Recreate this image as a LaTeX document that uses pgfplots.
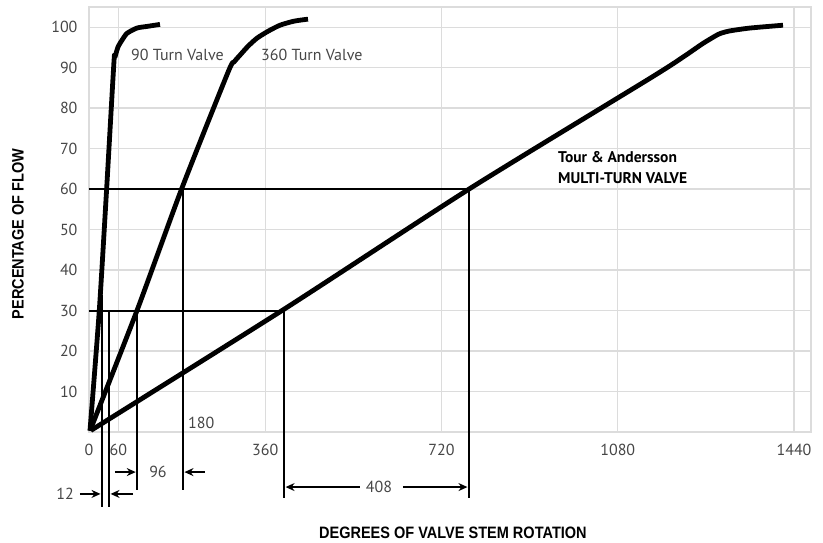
\documentclass[border=0pt]{standalone}
\usepackage{fontspec}
\setmainfont{PT Sans}
\newfontfamily\labelfont{Liberation Sans}
\usepackage{pgfplots}
\pgfplotsset{compat=1.18}
\usetikzlibrary{arrows.meta}
\definecolor{gridgray}{RGB}{220,220,220}
\definecolor{ticktext}{RGB}{70,70,70}

\begin{document}
\begin{tikzpicture}
\begin{axis}[
  scale only axis, width=722pt, height=425pt,
  xmin=0, xmax=1474.7, ymin=0, ymax=105,
  xtick={0,60,360,720,1080,1440}, xticklabels={0,60,360,720,1080,1440},
  ytick={10,20,...,100}, yticklabels={10,20,30,40,50,60,70,80,90,100},
  grid=major, major grid style={draw=gridgray, line width=1.4pt},
  axis line style={draw=gridgray, line width=1.4pt},
  tick style={draw=none},
  tick label style={font=\fontsize{16}{19}\selectfont, text=ticktext},
  xticklabel style={yshift=-9pt},
  yticklabel style={xshift=-8pt},
  clip=false,
  every axis y label/.style={at={(axis description cs:-0.0983,0.466)}, rotate=90, anchor=center},
  every axis x label/.style={at={(axis description cs:0.504,-0.2376)}, anchor=center},
  ylabel={\scalebox{0.88}[1]{\labelfont\bfseries\fontsize{16.5}{19}\selectfont PERCENTAGE OF FLOW}},
  xlabel={\scalebox{0.88}[1]{\labelfont\bfseries\fontsize{16.5}{19}\selectfont DEGREES OF VALVE STEM ROTATION}},
]
% reference lines at 30 % and 60 %
\addplot[black, line width=1.9pt] coordinates {(0,60) (776,60)};
\addplot[black, line width=1.9pt] coordinates {(0,30) (398,30)};
% drop lines
\addplot[black, line width=1.9pt] coordinates {(26.6,33.8) (26.6,-18.5)};
\addplot[black, line width=1.9pt] coordinates {(40.8,30) (40.8,-18.5)};
\addplot[black, line width=1.9pt] coordinates {(98,30) (98,-14.3)};
\addplot[black, line width=1.9pt] coordinates {(192,60) (192,-14.3)};
\addplot[black, line width=1.9pt] coordinates {(398,30) (398,-16.3)};
\addplot[black, line width=1.9pt] coordinates {(776,60) (776,-16.3)};
% dimension arrows
\addplot[black, line width=1.3pt, -{Stealth[length=9pt,width=8pt]}] coordinates {(-18.4,-15.3) (23.5,-15.3)};
\addplot[black, line width=1.3pt, -{Stealth[length=9pt,width=8pt]}] coordinates {(89.9,-15.3) (44,-15.3)};
\addplot[black, line width=1.3pt, -{Stealth[length=9pt,width=8pt]}] coordinates {(53.1,-9.9) (95.5,-9.9)};
\addplot[black, line width=1.3pt, -{Stealth[length=9pt,width=8pt]}] coordinates {(236.9,-9.9) (195,-9.9)};
\addplot[black, line width=1.3pt, -{Stealth[length=9pt,width=8pt]}] coordinates {(553.5,-13.6) (401.5,-13.6)};
\addplot[black, line width=1.3pt, -{Stealth[length=9pt,width=8pt]}] coordinates {(641.3,-13.6) (773,-13.6)};
% 90 turn valve
\addplot[black, line width=4.8pt, line join=round, smooth, tension=0.4] coordinates {
 (2,0.3) (21,30) (36,60) (51,91.5) (53,92.6) (59.2,95.1) (67.4,96.8)
 (77.6,98.5) (98,99.8) (118.5,100.2) (145,100.7)};
% 360 turn valve
\addplot[black, line width=4.8pt, line join=round, smooth, tension=0.4] coordinates {
 (2,0.3) (98,30) (189,60) (284,88.9) (296.2,91.4) (308.4,93.1) (324.8,95.3)
 (343.1,97.3) (365.6,99) (390.1,100.5) (418.7,101.5) (447.3,102)};
% multi-turn valve
\addplot[black, line width=4.8pt, line join=round, smooth, tension=0.4] coordinates {
 (4,0.4) (398,30.3) (776,60) (1146,87.4) (1213,92.6) (1254,96) (1283,98.1)
 (1293,98.6) (1309,99.1) (1350,99.8) (1417.5,100.5)};
% text
\node[anchor=west, font=\fontsize{16}{19}\selectfont, text=ticktext, inner sep=0pt] at (axis cs:85.8,93.1) {90 Turn Valve};
\node[anchor=west, font=\fontsize{16}{19}\selectfont, text=ticktext, inner sep=0pt] at (axis cs:351.3,93.1) {360 Turn Valve};
\node[anchor=west, font=\fontsize{16}{19}\selectfont, text=ticktext, inner sep=0pt] at (axis cs:202,2.2) {180};
\node[anchor=center, font=\fontsize{16}{19}\selectfont, text=ticktext, inner sep=0pt] at (axis cs:-49,-15.3) {12};
\node[anchor=center, font=\fontsize{16}{19}\selectfont, text=ticktext, inner sep=0pt] at (axis cs:140.9,-9.9) {96};
\node[anchor=center, font=\fontsize{16}{19}\selectfont, text=ticktext, inner sep=0pt] at (axis cs:592.3,-13.6) {408};
\node[anchor=west, align=left, font=\bfseries\fontsize{15.5}{21}\selectfont, inner sep=0pt] at (axis cs:958,65.3) {Tour \& Andersson\\MULTI-TURN VALVE};
\end{axis}
\path ([shift={(-89pt,-109pt)}]current axis.south west) rectangle ([shift={(12pt,7pt)}]current axis.north east);
\end{tikzpicture}
\end{document}
